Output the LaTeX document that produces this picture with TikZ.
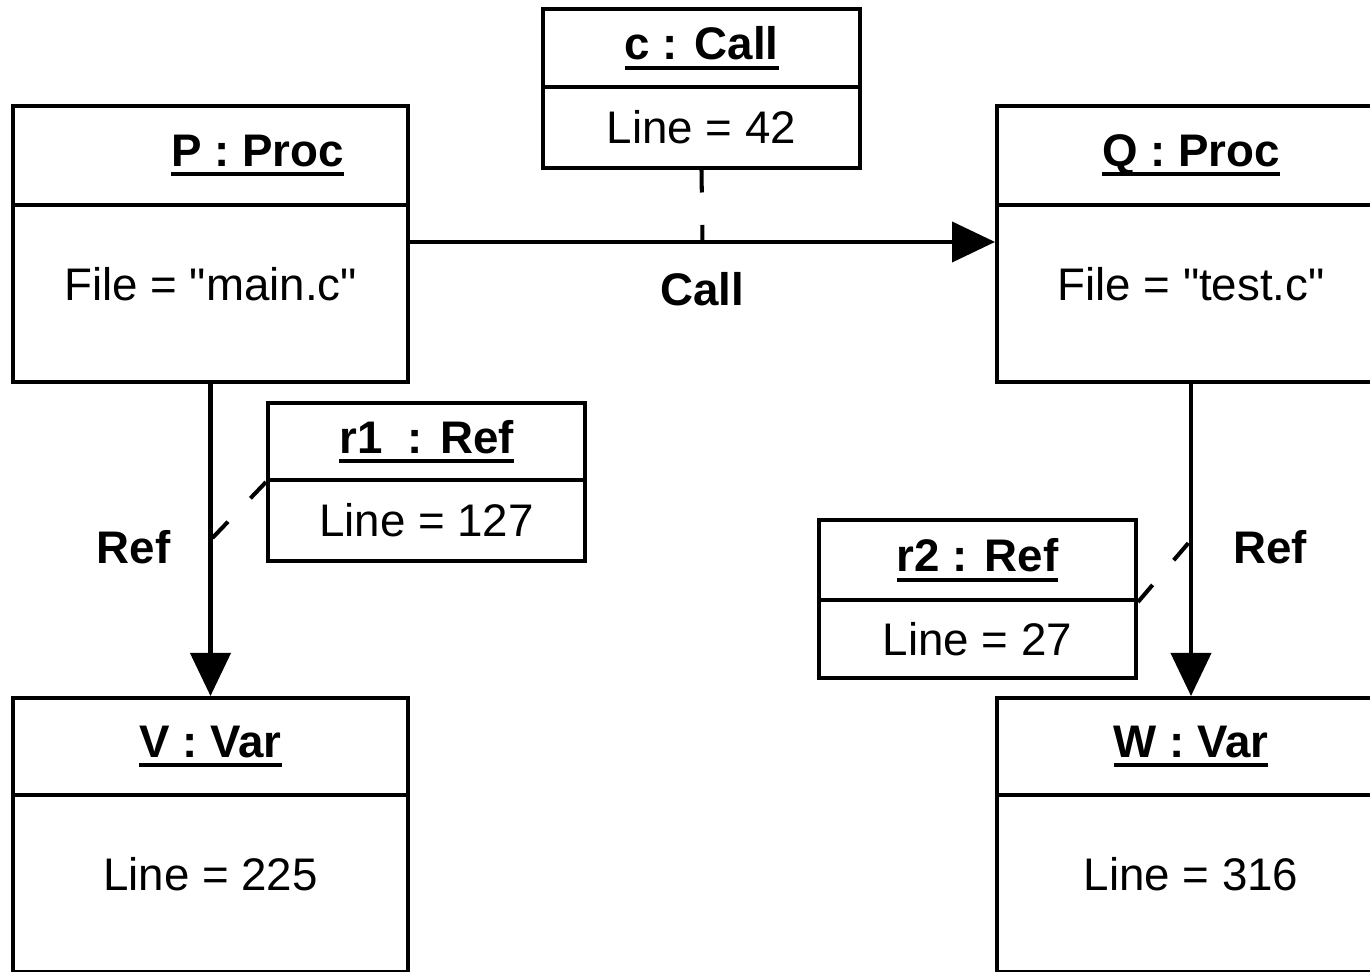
\documentclass[tikz,border=0pt]{standalone}
\usepackage{fontspec}
\setmainfont{Liberation Sans}
\newfontfamily\quotefont{Liberation Sans}
\usetikzlibrary{arrows.meta}
\newcommand{\objtitle}[1]{\setbox0\hbox{#1}\rlap{\rule[-5.7pt]{\wd0}{2.3pt}}\box0}
\newcommand{\dq}{{\quotefont"}}

\begin{document}
\begin{tikzpicture}[
  x=0.02cm, y=-0.02cm,
  head/.style={
    rectangle,
    draw=black,
    line width=2.3pt,
    inner sep=0pt,
    font=\fontsize{26}{30}\selectfont\bfseries
  },
  body/.style={
    rectangle,
    draw=black,
    line width=2.3pt,
    inner sep=0pt,
    font=\fontsize{26}{30}\selectfont
  },
  tall/.style={body, text depth=0.4cm},
  lbl/.style={inner sep=0pt, font=\fontsize{26}{30}\selectfont\bfseries},
  arrow/.style={-{Triangle[length=0.86cm, width=0.8cm]}, line width=2.3pt},
  dashline/.style={line width=2.3pt, dash pattern=on 0.45cm off 0.65cm}
]
\useasboundingbox (0,0) rectangle (1370,972);
\clip (0,0) rectangle (1370,972);

% objects
\node[head, minimum width=7.9cm, minimum height=1.98cm] (phead) at (210.5,155.5) {\hspace*{1.88cm}\objtitle{P : Proc}};
\node[tall, minimum width=7.9cm, minimum height=3.54cm] (pbody) at (210.5,293.5) {File = \dq main.c\dq};

\node[head, minimum width=6.34cm, minimum height=1.56cm] (chead) at (701.5,48) {\objtitle{c : Call}};
\node[body, minimum width=6.34cm, minimum height=1.62cm] (cbody) at (701.5,127.5) {Line = 42};

\node[head, minimum width=7.76cm, minimum height=1.98cm] (qhead) at (1191,155.5) {\objtitle{Q : Proc}};
\node[tall, minimum width=7.76cm, minimum height=3.54cm] (qbody) at (1191,293.5) {File = \dq test.c\dq};

\node[head, minimum width=6.34cm, minimum height=1.54cm] (rahead) at (426.5,441.5) {\objtitle{r1\ \ : Ref}};
\node[body, minimum width=6.34cm, minimum height=1.62cm] (rabody) at (426.5,520.5) {Line = 127};

\node[head, minimum width=6.34cm, minimum height=1.6cm] (rbhead) at (977.5,560) {\objtitle{r2 : Ref}};
\node[body, minimum width=6.34cm, minimum height=1.56cm] (rbbody) at (977.5,639) {Line = 27};

\node[head, minimum width=7.9cm, minimum height=1.94cm] (vhead) at (210.5,746.5) {\objtitle{V : Var}};
\node[tall, minimum width=7.9cm, minimum height=3.54cm] (vbody) at (210.5,883.5) {Line = 225};

\node[head, minimum width=7.76cm, minimum height=1.94cm] (whead) at (1191,746.5) {\objtitle{W : Var}};
\node[tall, minimum width=7.76cm, minimum height=3.54cm] (wbody) at (1191,883.5) {Line = 316};

% links
\draw[arrow] ([yshift=-0.78cm]pbody.north east) -- coordinate[midway] (callpt)
  node[lbl, midway, yshift=-0.94cm] (calllbl) {Call} ([yshift=-0.78cm]qbody.north west);
\draw[arrow] (pbody.south) -- coordinate[midway] (refpta)
  node[lbl, midway, xshift=-1.54cm, yshift=-0.14cm] (reflbla) {Ref} (vhead.north);
\draw[arrow] (qbody.south) -- coordinate[midway] (refptb)
  node[lbl, midway, xshift=1.58cm, yshift=-0.14cm] (reflblb) {Ref} (whead.north);

% link objects
\draw[dashline] (cbody.south) -- (callpt);
\draw[dashline] (rahead.south west) -- (refpta);
\draw[dashline] (rbhead.south east) -- (refptb);

\end{tikzpicture}
\end{document}
